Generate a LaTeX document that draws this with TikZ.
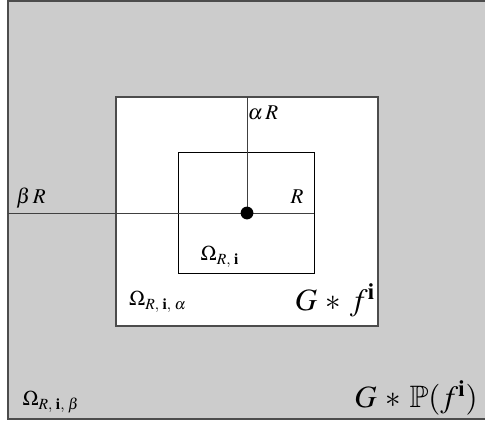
\documentclass[tikz,border=0pt]{standalone}
\usepackage{amsmath}
\usepackage{amssymb}
\usepackage{mathptmx}
\usepackage{tikz}

\definecolor{shade}{gray}{0.8}
\definecolor{edge}{gray}{0.3}
\newcommand{\widebin}{\medmuskip=5mu}

\begin{document}
\begin{tikzpicture}[
  x=0.5pt, y=-0.5pt,
  region/.style={draw=edge, line width=0.55pt, inner sep=0pt, outer sep=0pt},
  lbl/.style={inner sep=0pt, font=\fontsize{10.5}{12}\selectfont},
  big/.style={inner sep=0pt, font=\fontsize{15.5}{18}\selectfont},
  cut/.style={draw=black!75, line width=0.5pt}
]
\useasboundingbox (0,0) rectangle (485,423);
\clip (0,0) rectangle (485,423);
% regions
\node[region, fill=shade, minimum width=270pt, minimum height=209pt] (outer) at (278,210) {};
\node[region, fill=white, minimum width=131pt, minimum height=114.5pt] (mid) at (247,211.5) {};
\node[region, draw=black, line width=0.5pt, minimum width=68pt, minimum height=60.5pt] (inner) at (246,212.5) {};
\coordinate (c) at (247,213);
% radii
\draw[cut] (outer.west |- c) -- (inner.east |- c);
\draw[cut] (mid.north -| c) -- (c);
\fill (c) circle (3.2pt);
% labels
\node[lbl] (br) at (31,198) {$\beta\,R$};
\node[lbl] (ar) at (263,113) {$\alpha\,R$};
\node[lbl] (r) at (297,197) {$R$};
\node[lbl] (om) at (220,257) {$\Omega_{R,\;\mathbf{i}}$};
\node[lbl] (oma) at (158,302) {$\Omega_{R,\;\mathbf{i},\;\alpha}$};
\node[big] (gf) at (335,300) {$\widebin G*f^{\mathbf{i}}$};
\node[lbl] (omb) at (51,402) {$\Omega_{R,\;\mathbf{i},\;\beta}$};
\node[big, anchor=west] (gp) at (354,398) {$\widebin G*\mathbb{P}(f^{\mathbf{i}})$};
\end{tikzpicture}
\end{document}
